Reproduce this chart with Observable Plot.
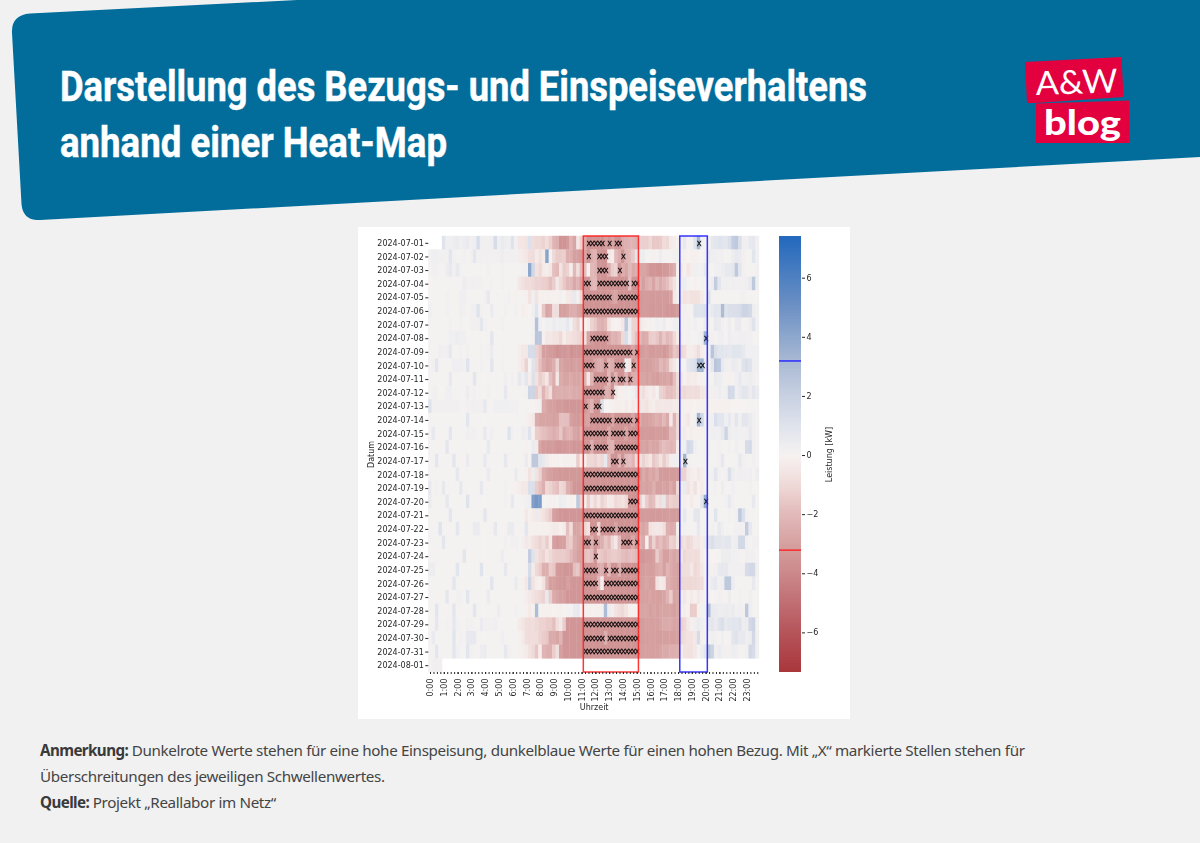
<!DOCTYPE html>
<html lang="de"><head><meta charset="utf-8">
<script src="https://cdn.jsdelivr.net/npm/d3@7"></script>
<script src="https://cdn.jsdelivr.net/npm/@observablehq/plot@0.6"></script>
<style>
html,body{margin:0;padding:0;background:#f1f1f1;overflow:hidden}
#page{position:relative;width:1200px;height:843px;background:#f1f1f1}
#bg{position:absolute;left:0;top:0}
#card{position:absolute;left:358px;top:227px;width:492px;height:492px;background:#fff}
#heat,#bar{position:absolute;top:0;filter:blur(.45px)}
#heat{left:0}
#bar{left:421px}
#note{position:absolute;left:40px;top:737px;width:1040px;font:15.2px/26px "Noto Sans",sans-serif;color:#444;letter-spacing:-.35px}
#note b{color:#3a3a3a;letter-spacing:-.6px}
</style></head><body><div id="page">
<svg id="bg" width="1200" height="220" viewBox="0 0 1200 220">
<path d="M30 13.5 L297 0 L1200 0 L1200 157 L40 220 Q23 221 21.5 204 L12 33 Q11 15 30 13.5 Z" fill="#026d9b"/>
<text x="60" y="101" font-family="'Liberation Sans Narrow','Roboto',sans-serif" font-weight="700" font-size="43" fill="#fff" stroke="#fff" stroke-width=".5" textLength="807" lengthAdjust="spacingAndGlyphs">Darstellung des Bezugs- und Einspeiseverhaltens</text>
<text x="60" y="157" font-family="'Liberation Sans Narrow','Roboto',sans-serif" font-weight="700" font-size="43" fill="#fff" stroke="#fff" stroke-width=".5" textLength="387" lengthAdjust="spacingAndGlyphs">anhand einer Heat-Map</text>
<g>
<path d="M1025 62 L1121.500 57 L1123.500 97 L1036 103 L1027 103 Z" fill="#e2003f"/>
<path d="M1036 103.500 L1129 100.500 L1129.500 143 L1036 143 Z" fill="#e2003f"/>
<text x="1036" y="95" font-family="Lato,sans-serif" font-weight="400" font-size="33" fill="#fff" textLength="82" lengthAdjust="spacingAndGlyphs" transform="rotate(-2 1036 95)">A&amp;W</text>
<text x="1044" y="135" font-family="Lato,sans-serif" font-weight="900" font-size="34" fill="#fff" textLength="77" lengthAdjust="spacingAndGlyphs">blog</text>
</g>
</svg>
<div id="card"><div id="heat"></div><div id="bar"></div></div>
<div id="note"><b>Anmerkung:</b> Dunkelrote Werte stehen für eine hohe Einspeisung, dunkelblaue Werte für einen hohen Bezug. Mit „X“ markierte Stellen stehen für<br>Überschreitungen des jeweiligen Schwellenwertes.<br><b>Quelle:</b> Projekt „Reallabor im Netz“</div>
</div>
<script>
// Leistung je Viertelstunde, in 0,1 kW (positiv = Bezug, negativ = Einspeisung)
const d01=[null,null,null,null,10,3,3,4,5,3,4,5,2,3,13,3,2,2,3,14,3,5,4,3,10,2,-5,-5,-6,11,-9,-10,-10,-12,-8,-13,-22,-24,-35,-35,-32,-22,-28,-5,-12,-25,-35,-35,-35,-35,-36,-30,-34,-28,-35,-35,-26,-24,-22,-22,-24,-12,-13,-13,-10,-15,-15,-14,-9,-10,-3,-2,-1,2,6,1,1,10,33,2,1,1,7,8,10,9,8,12,22,24,12,3,2,6,7,2];
const d02=[1,3,3,2,2,2,9,2,1,1,2,1,2,8,2,2,2,2,2,2,2,4,2,2,2,2,-2,-3,-5,-8,-9,-3,-7,-3,42,1,-10,-14,-14,-13,-24,-24,-30,-30,-32,-28,-35,-25,-22,-35,-35,-35,-5,-2,-20,-25,-35,-22,-20,-15,8,2,4,1,1,-1,1,4,1,1,1,2,2,1,-1,0,-1,-1,1,0,2,5,3,3,2,2,1,1,4,6,5,2,1,1,9,2];
const d03=[1,2,2,1,1,4,6,2,6,2,1,1,1,1,1,1,1,2,1,1,1,2,1,1,1,1,1,2,2,40,16,-6,-10,-3,-2,-5,-18,-20,-6,-14,-12,-2,-20,-8,-20,-18,-1,-20,-22,-35,-35,-35,-25,-14,-12,-34,-25,-28,-20,-26,-24,-28,-28,-30,-34,-34,-35,-35,-33,-32,-28,-24,1,-3,-1,-5,-2,3,2,2,6,2,0,2,3,4,6,6,8,24,8,2,1,1,1,2];
const d04=[0,1,1,1,1,1,1,1,1,1,4,2,2,2,2,2,1,1,2,1,1,2,1,1,1,1,-4,-7,-9,-9,-10,-12,-12,-13,-14,-18,-14,-4,-10,-15,-20,-20,-27,-22,-30,-35,-35,-22,-20,-35,-35,-35,-35,-35,-35,-35,-35,-35,-18,-35,-35,-25,-30,-25,-22,-28,-20,-26,-22,-18,-12,-6,0,3,4,1,0,-1,0,1,1,2,4,22,8,3,3,2,3,2,2,2,3,6,24,3];
const d05=[1,1,1,1,1,2,1,1,1,3,3,1,1,1,1,1,2,7,1,1,1,1,1,2,1,-1,1,1,-1,-6,3,-6,-1,-1,-1,-1,-1,-1,2,0,-3,-4,6,2,-10,-35,-35,-35,-35,-35,-35,-35,-35,-30,-28,-35,-35,-35,-35,-35,-35,-33,-32,-32,-32,-32,-32,-32,-32,-32,-30,-4,2,-3,-6,-5,-7,-7,-6,-3,1,10,1,1,1,1,1,1,1,0,1,2,1,1,1,1];
const d06=[3,1,1,1,1,2,1,1,1,3,2,1,2,2,10,2,1,1,5,1,1,1,2,1,1,2,1,-2,-1,0,3,10,1,-16,-28,-26,-8,-8,-30,-30,-28,-25,-24,-28,-30,-35,-35,-35,-35,-35,-35,-35,-35,-35,-35,-35,-35,-35,-35,-35,-35,-33,-32,-32,-33,-33,-32,-33,-32,-34,-34,-33,-32,-1,2,-1,1,10,10,10,11,3,6,9,8,30,10,12,12,12,14,18,18,16,4,2];
const d07=[1,1,1,1,1,1,2,1,1,2,1,1,2,2,2,8,2,1,1,1,1,2,1,1,1,1,1,1,1,1,2,28,3,1,3,2,5,3,4,3,7,2,-8,-12,2,0,-3,-12,-15,-22,-24,-20,-6,-1,0,-1,-4,25,4,-12,-12,-4,-2,-1,-1,1,3,-1,4,0,1,3,3,1,-1,2,1,3,1,1,4,-1,1,6,5,2,1,4,1,5,5,1,1,4,10,2];
const d08=[1,1,1,1,1,1,3,3,4,3,3,1,1,1,1,1,1,1,8,1,1,1,1,1,1,1,1,1,1,1,2,26,26,-1,-5,-4,-6,-6,-10,-2,-6,-7,-8,-10,-12,-6,-28,-32,-35,-35,-35,-35,-28,-22,-24,-20,-10,14,3,-12,-18,-20,-26,-25,-14,-13,-16,-22,-15,-20,-18,-10,-3,-2,1,2,1,1,2,4,34,2,2,1,3,3,1,4,2,2,3,3,2,2,1,1];
const d09=[1,1,1,3,2,3,7,1,1,2,1,2,1,1,1,2,1,2,5,1,1,-1,1,1,1,1,-2,-4,-4,14,14,-12,-16,-30,-30,-32,-33,-36,-34,-34,-32,-36,-34,-34,-34,-35,-35,-35,-35,-35,-35,-35,-35,-35,-35,-35,-35,-35,-35,-28,-35,-33,-31,-30,-32,-32,-31,-31,-33,-30,-25,-16,-18,-10,-8,-2,-2,-4,-8,-2,1,1,26,12,8,9,8,7,9,9,9,6,3,2,3,3];
const d10=[1,2,8,1,1,1,1,3,3,3,2,10,1,1,1,2,1,1,8,1,1,2,1,1,1,1,-2,-5,-12,0,10,-10,-18,-26,-30,-28,-24,-12,-28,-30,-31,-32,-30,-30,-31,-35,-35,-35,-28,-25,-25,-35,-22,-25,-35,-35,-35,4,-5,-35,-28,-30,-30,-31,-30,-28,-27,-20,-24,-20,-8,-4,1,0,1,8,10,12,34,34,4,-1,8,26,24,6,3,2,5,4,2,10,12,10,3,2];
const d11=[1,1,1,1,1,1,6,1,1,1,1,1,1,8,1,1,1,1,1,1,1,1,3,1,2,1,7,3,8,-2,11,-6,-14,-10,-5,-18,-25,-5,-26,-28,-28,-26,-28,-28,-26,-22,-5,-22,-35,-35,-35,-35,-20,-35,-22,-35,-35,-22,-35,-25,-24,-28,-28,-30,-28,-30,-31,-28,-29,-27,-30,-18,-8,-4,-1,-3,-2,-3,-1,-1,1,1,1,5,4,2,1,-1,1,3,6,2,3,4,2,1];
const d12=[1,2,2,0,1,3,3,1,1,1,1,4,1,2,1,1,1,2,1,1,1,1,7,1,1,1,1,1,2,18,18,-14,-8,-22,-14,-8,-26,-24,-24,-25,-24,-24,-26,-26,-26,-35,-35,-35,-35,-35,-35,-24,-24,-35,-6,-1,-1,2,1,2,6,-3,-8,-4,-2,-4,1,-12,-14,-18,-18,-16,-10,-8,-10,-8,-8,-9,-8,-5,-4,-1,2,2,4,2,3,16,15,3,5,8,8,4,8,5];
const d13=[10,2,2,2,2,2,2,2,2,1,1,2,2,2,2,2,7,1,1,3,3,3,3,3,2,2,1,1,1,1,0,-1,3,-25,-28,-30,-30,-32,-32,-33,-34,-34,-34,-34,-33,-35,-28,-22,-35,-35,12,0,0,-1,-2,-2,-1,-3,-1,-4,-2,-4,-5,-6,-3,-2,-5,-4,-4,-4,-4,-3,-3,-1,-1,-1,-1,0,-1,-1,-1,-1,-1,-1,-1,-1,-1,-1,0,0,0,0,1,1,1,1];
const d14=[1,1,1,1,1,1,1,1,1,1,1,9,1,1,1,1,1,1,1,1,1,1,1,1,1,1,1,1,-1,-2,-4,-26,-28,-28,-28,-28,-30,-28,-18,-18,-18,-30,-32,-33,-30,-30,-28,-35,-35,-35,-35,-35,-35,-28,-35,-35,-35,-35,-35,-28,-35,-26,-30,-30,-28,-26,-24,-26,-20,-26,-4,-22,-10,1,-2,-5,1,2,34,16,1,2,3,12,9,8,3,6,2,8,2,8,8,5,3,1];
const d15=[1,6,1,1,1,1,8,1,1,1,1,3,2,2,1,1,6,1,3,1,1,1,1,10,2,1,1,4,3,10,-1,-14,-16,-18,-20,-22,-25,-22,-16,-26,-22,-22,-28,-30,-24,-35,-35,-35,-35,-35,-35,-35,-26,-35,-35,-35,-35,-28,-35,-35,-35,-32,-32,-32,-32,-32,-31,-31,-32,-30,-20,-20,-10,2,-3,-1,-2,-1,-1,-1,1,1,3,3,3,6,18,4,2,3,2,2,3,6,2,1];
const d16=[1,1,1,1,1,8,1,1,1,1,1,1,1,1,1,1,1,6,1,1,1,1,1,1,1,1,1,1,-1,1,5,-3,-28,-32,-32,-32,-32,-34,-34,-33,-32,-32,-34,-34,-32,-35,-35,-24,-35,-35,-35,-35,-24,-22,-35,-35,-35,-35,-35,-35,-35,-30,-28,-30,-26,-28,-28,-22,-18,-20,-22,-20,-2,1,3,16,14,3,1,1,1,2,1,1,2,1,1,2,1,3,1,1,14,15,2,1];
const d17=[1,1,8,1,1,1,1,8,1,1,1,5,1,1,1,1,6,1,1,1,1,1,7,1,1,1,1,1,5,1,24,24,8,6,-3,-1,-1,-1,0,-1,-1,-1,-1,-14,-2,-1,-10,-10,-12,-8,-10,6,-18,-35,-35,-22,-35,-20,-18,-22,-10,-5,-12,-8,-5,-15,-12,-6,-14,-8,-2,3,3,-1,34,2,1,1,1,1,1,1,1,1,2,7,1,1,1,1,6,2,1,1,2,1];
const d18=[1,1,1,1,1,1,1,1,7,1,1,1,1,1,1,1,1,5,1,1,1,1,1,1,1,5,1,1,-1,-6,4,-6,-12,-25,-28,-30,-32,-32,-33,-33,-33,-33,-33,-33,-33,-35,-35,-35,-35,-35,-35,-35,-35,-35,-35,-35,-35,-35,-35,-35,-35,-33,-26,-30,-26,-28,-24,-32,-32,-32,-32,-32,-32,-12,-12,-4,-2,-1,-4,-2,1,1,2,8,2,1,2,12,4,2,3,2,2,3,1,4];
const d19=[6,1,2,1,7,1,1,1,1,7,1,1,1,1,1,7,1,1,1,1,1,1,2,1,1,-1,-2,-4,-4,12,12,-14,-18,-24,-10,-12,-16,-18,-10,-12,-24,-28,-34,-34,-34,-35,-35,-35,-35,-35,-35,-35,-35,-35,-35,-35,-35,-35,-35,-35,-35,-30,-28,-30,-28,-24,-30,-30,-28,-30,-26,-30,-10,2,5,-6,-2,-7,-1,-3,1,1,1,2,1,4,1,1,3,1,1,1,1,2,1,1];
const d20=[5,1,1,1,1,7,1,1,1,1,1,10,1,1,1,1,1,1,1,1,1,1,2,1,6,1,1,1,2,3,44,48,46,1,1,-1,-1,1,4,3,1,-1,0,24,-12,-1,-14,-4,-10,-4,-12,-8,-3,-4,-10,-8,-6,-10,-35,-35,-35,-14,-4,-14,-20,-18,-6,-8,7,-16,-12,-14,-14,1,-2,1,-3,-1,1,8,36,1,1,1,1,1,2,6,2,1,1,1,1,1,6,1];
const d21=[1,1,1,1,1,1,8,1,1,1,1,1,1,1,1,1,8,1,1,1,1,1,1,1,1,1,1,1,-4,-1,-3,5,-4,-6,-10,-14,-30,-32,-34,-34,-34,-34,-34,-34,-34,-35,-35,-35,-35,-35,-35,-35,-35,-35,-35,-35,-35,-35,-35,-35,-35,-32,-32,-32,-32,-32,-32,-32,-32,-31,-31,-32,-32,1,7,1,1,8,8,1,1,1,1,9,1,1,1,2,1,2,24,12,2,1,1,1];
const d22=[1,1,1,10,1,1,1,1,8,1,1,1,1,5,5,1,1,1,1,7,1,1,1,5,5,1,1,1,8,-1,-1,-1,-1,-1,-1,-2,-3,-3,-1,-3,-18,-8,-28,-28,-24,-10,-6,-35,-35,-12,-35,-35,-35,-35,-28,-35,-35,-35,-35,-35,-35,-26,-28,-26,-6,-5,-4,-5,-8,-24,-26,-24,-1,1,2,1,1,1,7,1,1,1,2,1,6,3,1,1,1,2,2,2,22,6,1,1];
const d23=[1,1,1,1,8,1,1,1,1,1,1,1,1,1,1,1,1,1,1,1,1,1,2,1,2,2,1,2,-4,-3,-7,-9,-12,-8,-14,-4,-30,-32,-30,-30,-16,-14,-25,-28,-30,-35,-35,-24,-35,-28,-24,-16,-20,-10,-4,-18,-35,-35,-35,-26,-35,-22,-26,-1,-24,-12,-22,-18,-24,-20,-12,-14,-5,-8,-6,-10,-8,-4,-5,-2,4,9,12,8,8,7,8,8,3,4,16,16,2,1,2,2];
const d24=[1,1,1,1,1,1,1,1,1,1,8,1,1,1,1,1,1,1,1,1,1,4,1,1,1,1,1,1,1,22,10,-6,-10,-12,-6,-10,-13,-14,-14,-14,-16,-20,-26,-30,-30,-18,-16,-18,-35,-14,-16,-18,-16,-14,-14,-16,-18,-20,-18,-18,-20,-34,-34,-32,-32,-30,-14,-22,-30,-30,-25,-28,-26,-4,-10,-8,-8,-9,-8,-2,0,1,0,0,1,4,4,4,3,2,1,1,2,2,2,1];
const d25=[4,4,1,1,1,1,1,1,9,1,1,1,1,1,1,10,1,1,1,1,1,1,7,1,1,1,1,1,-1,14,-3,-10,-14,-24,-24,-14,-16,-32,-33,-34,-34,-34,-18,-16,-28,-35,-35,-35,-35,-26,-24,-35,-20,-35,-35,-24,-35,-35,-35,-35,-35,-32,-31,-30,-31,-30,-26,-24,-30,-22,-26,-28,-30,-8,-8,-8,-4,-10,-8,-4,1,2,-1,2,6,7,7,3,2,2,2,2,14,16,16,2];
const d26=[1,1,1,1,1,1,1,8,1,1,1,1,1,1,1,1,1,1,9,1,1,1,1,1,1,5,1,-1,-4,18,-6,-2,-1,-6,-20,-30,-30,-32,-33,-34,-30,-33,-34,-34,-34,-35,-35,-35,-35,-20,-2,-35,-35,-35,-35,-35,-35,-35,-35,-35,-35,-32,-30,-28,-30,-30,-6,-3,-4,-24,-26,-28,-30,-10,-10,-10,-10,-10,-9,-8,1,1,5,6,2,3,24,24,4,1,1,1,1,1,6,1];
const d27=[1,1,1,1,1,8,1,1,2,2,1,9,1,1,1,1,1,5,1,1,1,1,1,1,1,1,1,1,-2,-4,-6,-8,-10,-12,6,-14,-26,-28,-30,-30,-34,-34,-34,-34,-34,-35,-35,-35,-35,-35,-35,-35,-35,-35,-35,-35,-35,-35,-35,-35,-35,-30,-30,-30,-28,-30,-30,-30,-28,-22,-14,-28,-28,3,-5,-1,-3,-1,-4,-1,0,1,0,1,2,-1,1,4,1,1,2,1,1,3,1,1];
const d28=[1,1,9,1,1,1,1,8,1,1,1,1,1,8,1,1,1,1,1,1,4,1,1,1,1,2,1,1,-1,-3,-1,30,1,-1,-1,-1,0,-1,-1,0,1,1,5,6,0,-1,-1,-1,-1,-1,-1,30,4,-2,-6,-8,-10,-6,-1,-1,-1,-28,-28,-28,-30,-28,-30,-28,-28,-28,-28,-30,-28,-1,-2,-1,-14,-14,-1,1,1,28,5,5,4,4,5,4,5,2,3,2,24,3,1,1];
const d29=[1,1,7,1,1,2,1,7,2,1,1,2,2,1,1,5,2,2,2,3,1,1,1,1,1,1,-3,-5,-8,-9,-8,-10,-12,-12,-14,-14,-18,-8,-4,-14,-34,-34,-34,-34,-34,-35,-35,-35,-35,-35,-35,-35,-35,-35,-35,-35,-35,-35,-35,-35,-35,-32,-31,-30,-30,-30,-30,-28,-26,-26,-26,-28,-28,-12,-10,-4,-1,3,5,3,1,6,8,5,10,12,6,8,9,8,10,4,4,16,18,1];
const d30=[1,5,1,1,1,1,1,9,1,2,1,6,6,6,1,1,1,1,1,1,1,3,1,1,1,1,-1,-3,-8,-9,-8,-9,-12,-14,-16,-26,-26,-28,-22,-34,-34,-34,-34,-34,-34,-35,-35,-35,-35,-35,-35,-24,-35,-35,-35,-35,-35,-35,-35,-35,-35,-32,-31,-31,-30,-30,-31,-31,-30,-30,-30,-30,-30,-10,-8,-6,-6,-4,14,-1,1,1,3,2,1,3,1,1,8,10,6,6,3,4,16,2];
const d31=[1,1,8,1,1,1,1,8,3,1,1,9,2,1,1,4,5,1,1,1,1,1,7,2,1,1,-1,-2,-3,-7,-10,-16,-2,-22,-24,-24,-14,-8,-30,-34,-34,-34,-34,-34,-34,-35,-35,-35,-35,-35,-35,-35,-35,-35,-35,-35,-35,-35,-35,-35,-35,-31,-30,-30,-30,-30,-30,-28,-26,-26,-24,-24,-24,-2,-6,-7,-7,-4,1,4,8,24,18,3,5,3,2,2,4,3,1,1,2,16,14,2];
const d32=[1,2,3,2];

const dayRows=[d01,d02,d03,d04,d05,d06,d07,d08,d09,d10,d11,d12,d13,d14,d15,d16,d17,d18,d19,d20,d21,d22,d23,d24,d25,d26,d27,d28,d29,d30,d31,d32];
const dayLabels=["2024-07-01","2024-07-02","2024-07-03","2024-07-04","2024-07-05","2024-07-06","2024-07-07","2024-07-08","2024-07-09","2024-07-10","2024-07-11","2024-07-12","2024-07-13","2024-07-14","2024-07-15","2024-07-16","2024-07-17","2024-07-18","2024-07-19","2024-07-20","2024-07-21","2024-07-22","2024-07-23","2024-07-24","2024-07-25","2024-07-26","2024-07-27","2024-07-28","2024-07-29","2024-07-30","2024-07-31","2024-08-01"];
const hourLabels=["0:00","1:00","2:00","3:00","4:00","5:00","6:00","7:00","8:00","9:00","10:00","11:00","12:00","13:00","14:00","15:00","16:00","17:00","18:00","19:00","20:00","21:00","22:00","23:00"];
const threshold=3.2;
const feedInWindow=[45,61];
const demandWindow=[73,81];

const cells=dayRows.flatMap((r,day)=>r.map((v,slot)=>({day,slot,kw:v==null?null:v/10}))).filter(d=>d.kw!=null);
const marks=cells.filter(d=>(d.slot>=feedInWindow[0]&&d.slot<feedInWindow[1]&&d.kw<=-threshold)||(d.slot>=demandWindow[0]&&d.slot<demandWindow[1]&&d.kw>=threshold));

const colorScale={type:"linear",
  domain:[-7.34,-6,-4,-3.2,-2,-1,0,1,2,3.2,4,5,7.41],
  range:["#a9373b","#b5545a","#cb888a","#d39b9b","#e2b9b9","#efd9d7","#f6f2f1","#dfe3ec","#c9d1e2","#a9b9d4","#8ea8cd","#6f92c4","#2369bd"],clamp:true};
const font="'DejaVu Sans',sans-serif";

const heat=Plot.plot({
  width:421,height:492,marginLeft:70.3,marginRight:20,marginTop:9,marginBottom:47,
  style:{fontFamily:font,fontSize:"8px",background:"transparent",color:"#262626",overflow:"visible"},
  x:{domain:[0,96],axis:null},y:{domain:[32,0],axis:null},
  color:colorScale,
  marks:[
    Plot.rect(cells,{x1:"slot",x2:d=>d.slot+1,y1:"day",y2:d=>d.day+1,fill:"kw",inset:-0.2}),
    Plot.text(marks,{x:d=>d.slot+.5,y:d=>d.day+.5,text:()=>"X",fontSize:7,fill:"#000",stroke:"#000",strokeWidth:.25}),
    Plot.rect([feedInWindow],{x1:d=>d[0],x2:d=>d[1],y1:0,y2:32,fill:"none",stroke:"#ff2020",strokeWidth:1.5,strokeOpacity:.9}),
    Plot.rect([demandWindow],{x1:d=>d[0],x2:d=>d[1],y1:0,y2:32,fill:"none",stroke:"#2020ff",strokeWidth:1.5,strokeOpacity:.9}),
    Plot.axisY(d3.range(32).map(i=>i+.5),{tickFormat:d=>dayLabels[d-.5],tickSize:3,tickPadding:2,label:"Datum",labelAnchor:"center",labelArrow:"none",labelOffset:60,fontSize:8}),
    Plot.axisX(d3.range(96).map(i=>i+.5),{text:null,tickSize:2,label:null}),
    Plot.axisX(d3.range(24).map(i=>i*4+.5),{tickFormat:d=>hourLabels[(d-.5)/4],tickRotate:-90,tickSize:2,tickPadding:4,label:"Uhrzeit",labelAnchor:"center",labelArrow:"none",labelOffset:37,fontSize:8})
  ]
});
document.getElementById("heat").append(heat);

const barSteps=d3.range(-7.34,7.36,0.05);
const bar=Plot.plot({
  width:70,height:492,marginLeft:0,marginRight:48,marginTop:9,marginBottom:47,
  style:{fontFamily:font,fontSize:"8px",background:"transparent",color:"#262626",overflow:"visible"},
  x:{domain:[0,1],axis:null},y:{domain:[-7.34,7.41],axis:null},
  color:colorScale,
  marks:[
    Plot.rect(barSteps,{x1:0,x2:1,y1:d=>d,y2:d=>d+0.1,fill:d=>d+0.05}),
    Plot.ruleY([threshold],{stroke:"#2020ff",strokeWidth:1.4}),
    Plot.ruleY([-threshold],{stroke:"#ff2020",strokeWidth:1.4}),
    Plot.axisY([-6,-4,-2,0,2,4,6],{anchor:"right",tickSize:3,tickPadding:2,label:"Leistung [kW]",labelAnchor:"center",labelArrow:"none",labelOffset:30,fontSize:8})
  ]
});
document.getElementById("bar").append(bar);
</script></body></html>
